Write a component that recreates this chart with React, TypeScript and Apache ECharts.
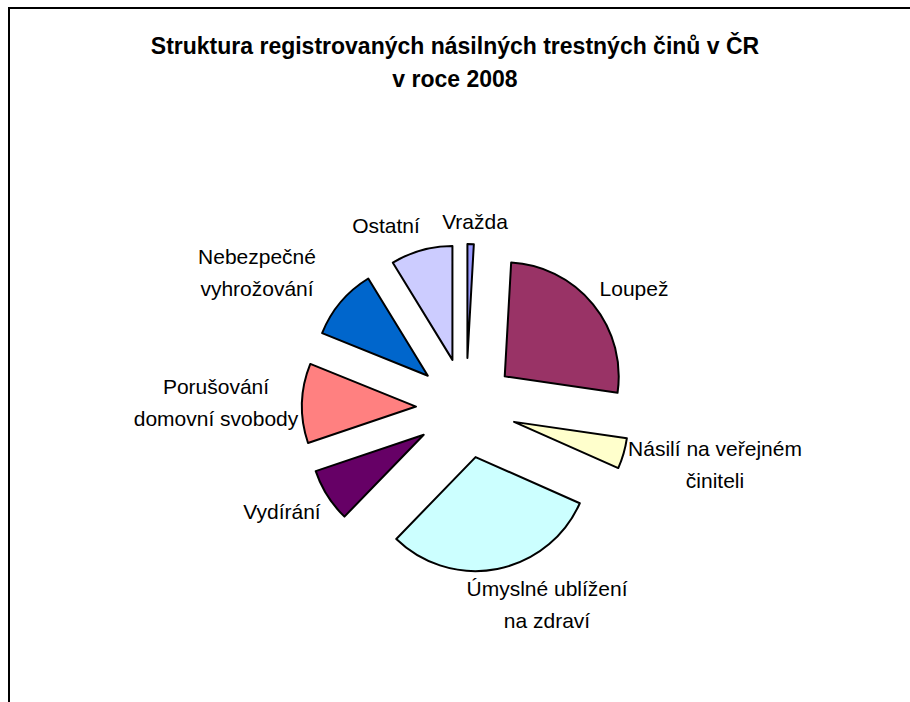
import React, { useEffect, useRef } from "react";
import * as echarts from "echarts";

const categories = [
  "Vražda",
  "Loupež",
  "Násilí na veřejném činiteli",
  "Úmyslné ublížení na zdraví",
  "Vydírání",
  "Porušování domovní svobody",
  "Nebezpečné vyhrožování",
  "Ostatní",
];
const labelTexts = [
  "Vražda",
  "Loupež",
  "Násilí na veřejném\nčiniteli",
  "Úmyslné ublížení\nna zdraví",
  "Vydírání",
  "Porušování\ndomovní svobody",
  "Nebezpečné\nvyhrožování",
  "Ostatní",
];
const values = [166, 4880, 800, 5655, 1400, 2085, 1875, 1617];
const colors = ["#9999FF", "#993366", "#FFFFCC", "#CCFFFF", "#660066", "#FF8080", "#0066CC", "#CCCCFF"];
const labelAnchors: [number, number][] = [
  [475, 221],
  [634, 288],
  [715, 464],
  [547, 604],
  [282, 511],
  [216, 402],
  [257, 272],
  [386, 225],
];

export default function App() {
  const ref = useRef<HTMLDivElement>(null);
  useEffect(() => {
    if (!ref.current) return;
    const chart = echarts.init(ref.current, undefined, { renderer: "svg" });
    const labelGraphics = labelTexts.map((t, i) => ({
      type: "text",
      x: labelAnchors[i][0],
      y: labelAnchors[i][1],
      silent: true,
      style: {
        text: t,
        fill: "#000",
        fontFamily: "Liberation Sans",
        fontSize: 21,
        lineHeight: 32,
        align: "center",
        verticalAlign: "middle",
        textAlign: "center",
        textVerticalAlign: "middle",
      },
    }));
    chart.setOption({
      animation: false,
      backgroundColor: "#ffffff",
      title: {
        text: "Struktura registrovaných násilných trestných činů v ČR\nv roce 2008",
        left: "center",
        top: 24,
        textStyle: {
          fontFamily: "Liberation Sans",
          fontSize: 23,
          fontWeight: "bold",
          color: "#000",
          lineHeight: 33,
        },
      },
      graphic: [
        {
          type: "polyline",
          shape: { points: [[9, 702], [9, 8], [910, 8]] },
          style: { stroke: "#000", lineWidth: 2, fill: "none" },
        },
        ...labelGraphics,
      ],
      series: [
        {
          type: "pie",
          center: [466, 408],
          radius: [0, 114],
          startAngle: 90,
          clockwise: true,
          selectedMode: "multiple",
          selectedOffset: 50,
          avoidLabelOverlap: false,
          emphasis: { disabled: true },
          itemStyle: { borderColor: "#000", borderWidth: 2 },
          select: { itemStyle: { borderColor: "#000", borderWidth: 2 } },
          label: { show: false },
          labelLine: { show: false },
          data: categories.map((name, i) => ({
            name,
            value: values[i],
            selected: true,
            itemStyle: { color: colors[i] },
            select: { itemStyle: { color: colors[i], borderColor: "#000", borderWidth: 2 } },
          })),
        },
      ],
    });
    return () => chart.dispose();
  }, []);
  return (
    <div
      ref={ref}
      style={{ position: "fixed", left: 0, top: 0, width: 910, height: 702 }}
    />
  );
}
